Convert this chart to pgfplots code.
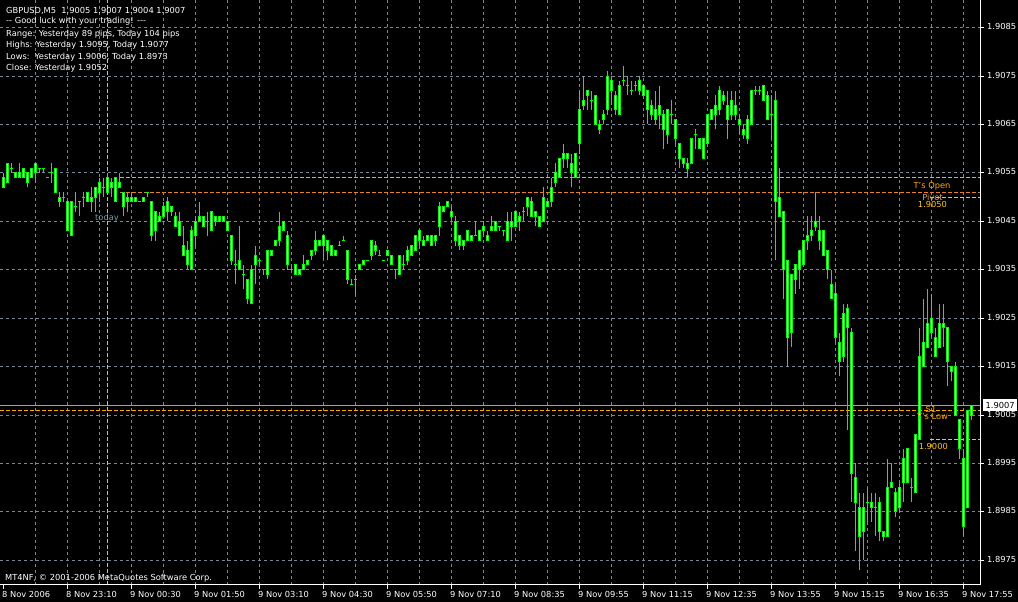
\documentclass[border=0pt]{standalone}
\usepackage{fontspec}
\setmainfont{DejaVu Sans}
\usepackage{pgfplots}
\usepackage{pgfplotstable}
\pgfplotsset{compat=1.18}

\definecolor{bar}{RGB}{0,255,0}
\definecolor{gridc}{RGB}{119,136,153}
\definecolor{opencol}{RGB}{255,170,0}
\definecolor{pivotcol}{RGB}{232,128,42}
\definecolor{pivottxt}{RGB}{214,160,110}
\definecolor{roundcol}{RGB}{255,196,32}
\definecolor{s1col}{RGB}{255,165,0}
\definecolor{todaycol}{RGB}{124,156,172}
\definecolor{sepcol}{RGB}{184,192,200}
\definecolor{bidcol}{RGB}{160,160,160}
\newcommand\fs{\fontsize{8.3}{10}\selectfont}

% GBPUSD M5, bar index (0 = 8 Nov 21:50), open high low close
\pgfplotstableread{
i o h l c
0 1.9052 1.9055 1.9052 1.9054
1 1.9053 1.9057 1.9053 1.9057
2 1.9056 1.9057 1.9055 1.9056
3 1.9055 1.9055 1.9054 1.9054
4 1.9054 1.9057 1.9054 1.9055
5 1.9056 1.9056 1.9054 1.9054
6 1.9053 1.9055 1.9052 1.9055
7 1.9054 1.9056 1.9054 1.9056
8 1.9055 1.9057 1.9053 1.9057
9 1.9056 1.9056 1.9055 1.9056
10 1.9056 1.9056 1.9055 1.9056
11 1.9054 1.9054 1.9054 1.9054
12 1.9055 1.9057 1.9053 1.9055
13 1.9056 1.9056 1.9051 1.9051
14 1.9050 1.9051 1.9048 1.9049
15 1.9050 1.9051 1.9049 1.9050
16 1.9049 1.9049 1.9043 1.9043
17 1.9042 1.9049 1.9042 1.9049
18 1.9048 1.9051 1.9047 1.9048
19 1.9049 1.9049 1.9046 1.9049
20 1.9050 1.9051 1.9048 1.9050
21 1.9049 1.9051 1.9049 1.9051
22 1.9050 1.9052 1.9047 1.9049
23 1.9050 1.9052 1.9047 1.9052
24 1.9051 1.9054 1.9049 1.9053
25 1.9052 1.9054 1.9050 1.9052
26 1.9054 1.9055 1.9051 1.9051
27 1.9052 1.9054 1.9050 1.9053
28 1.9054 1.9054 1.9049 1.9049
29 1.9052 1.9055 1.9052 1.9053
30 1.9051 1.9051 1.9046 1.9048
31 1.9049 1.9051 1.9047 1.9050
32 1.9050 1.9051 1.9049 1.9049
33 1.9049 1.9050 1.9049 1.9050
34 1.9049 1.9049 1.9049 1.9049
35 1.9049 1.9050 1.9049 1.9050
36 1.9051 1.9051 1.9050 1.9051
37 1.9049 1.9049 1.9041 1.9042
38 1.9043 1.9047 1.9041 1.9047
39 1.9046 1.9047 1.9045 1.9045
40 1.9046 1.9049 1.9046 1.9048
41 1.9049 1.9050 1.9045 1.9047
42 1.9047 1.9048 1.9046 1.9048
43 1.9046 1.9047 1.9044 1.9044
44 1.9045 1.9047 1.9042 1.9042
45 1.9040 1.9044 1.9038 1.9038
46 1.9039 1.9041 1.9035 1.9036
47 1.9035 1.9044 1.9035 1.9043
48 1.9042 1.9046 1.9040 1.9045
49 1.9045 1.9049 1.9045 1.9046
50 1.9046 1.9046 1.9044 1.9044
51 1.9045 1.9047 1.9042 1.9045
52 1.9043 1.9047 1.9043 1.9047
53 1.9046 1.9046 1.9044 1.9045
54 1.9045 1.9046 1.9045 1.9046
55 1.9046 1.9046 1.9045 1.9045
56 1.9045 1.9045 1.9043 1.9043
57 1.9042 1.9042 1.9036 1.9037
58 1.9036 1.9039 1.9032 1.9036
59 1.9035 1.9044 1.9035 1.9037
60 1.9034 1.9036 1.9031 1.9034
61 1.9033 1.9033 1.9028 1.9029
62 1.9028 1.9036 1.9028 1.9035
63 1.9036 1.9040 1.9032 1.9038
64 1.9037 1.9037 1.9036 1.9037
65 1.9035 1.9035 1.9034 1.9035
66 1.9034 1.9039 1.9033 1.9039
67 1.9038 1.9039 1.9038 1.9039
68 1.9040 1.9041 1.9040 1.9041
69 1.9041 1.9047 1.9040 1.9044
70 1.9043 1.9045 1.9043 1.9045
71 1.9042 1.9043 1.9035 1.9036
72 1.9035 1.9036 1.9035 1.9035
73 1.9034 1.9036 1.9034 1.9036
74 1.9035 1.9035 1.9034 1.9034
75 1.9035 1.9038 1.9035 1.9036
76 1.9036 1.9037 1.9036 1.9037
77 1.9038 1.9039 1.9037 1.9039
78 1.9039 1.9043 1.9038 1.9041
79 1.9040 1.9041 1.9040 1.9041
80 1.9042 1.9042 1.9037 1.9040
81 1.9041 1.9041 1.9037 1.9039
82 1.9040 1.9040 1.9038 1.9038
83 1.9038 1.9039 1.9038 1.9039
84 1.9040 1.9041 1.9040 1.9040
85 1.9041 1.9042 1.9041 1.9041
86 1.9039 1.9039 1.9032 1.9033
87 1.9032 1.9033 1.9032 1.9032
88 1.9033 1.9034 1.9030 1.9033
89 1.9035 1.9036 1.9035 1.9036
90 1.9036 1.9037 1.9036 1.9037
91 1.9037 1.9037 1.9037 1.9037
92 1.9038 1.9041 1.9037 1.9041
93 1.9040 1.9041 1.9038 1.9039
94 1.9038 1.9039 1.9038 1.9038
95 1.9037 1.9037 1.9037 1.9037
96 1.9038 1.9039 1.9038 1.9039
97 1.9038 1.9038 1.9036 1.9036
98 1.9035 1.9035 1.9033 1.9035
99 1.9034 1.9038 1.9034 1.9038
100 1.9036 1.9038 1.9035 1.9036
101 1.9037 1.9040 1.9036 1.9039
102 1.9038 1.9040 1.9038 1.9040
103 1.9039 1.9042 1.9039 1.9042
104 1.9041 1.9043 1.9040 1.9043
105 1.9041 1.9042 1.9040 1.9040
106 1.9041 1.9042 1.9041 1.9042
107 1.9042 1.9042 1.9040 1.9040
108 1.9041 1.9042 1.9040 1.9042
109 1.9044 1.9049 1.9042 1.9048
110 1.9048 1.9048 1.9047 1.9047
111 1.9048 1.9049 1.9048 1.9049
112 1.9047 1.9048 1.9045 1.9046
113 1.9045 1.9046 1.9040 1.9041
114 1.9042 1.9042 1.9039 1.9040
115 1.9040 1.9041 1.9039 1.9041
116 1.9041 1.9043 1.9041 1.9043
117 1.9042 1.9042 1.9041 1.9041
118 1.9042 1.9045 1.9042 1.9042
119 1.9041 1.9043 1.9041 1.9043
120 1.9043 1.9045 1.9042 1.9044
121 1.9042 1.9043 1.9041 1.9041
122 1.9043 1.9046 1.9043 1.9044
123 1.9043 1.9045 1.9043 1.9045
124 1.9044 1.9044 1.9043 1.9044
125 1.9043 1.9043 1.9042 1.9043
126 1.9041 1.9047 1.9041 1.9045
127 1.9044 1.9047 1.9041 1.9045
128 1.9044 1.9047 1.9044 1.9047
129 1.9046 1.9047 1.9043 1.9045
130 1.9047 1.9048 1.9045 1.9047
131 1.9048 1.9050 1.9046 1.9050
132 1.9049 1.9050 1.9046 1.9046
133 1.9047 1.9047 1.9044 1.9046
134 1.9046 1.9046 1.9044 1.9044
135 1.9045 1.9052 1.9045 1.9050
136 1.9049 1.9049 1.9048 1.9048
137 1.9049 1.9054 1.9048 1.9052
138 1.9053 1.9057 1.9052 1.9055
139 1.9054 1.9058 1.9054 1.9058
140 1.9058 1.9061 1.9056 1.9059
141 1.9059 1.9059 1.9056 1.9058
142 1.9057 1.9059 1.9052 1.9055
143 1.9054 1.9059 1.9054 1.9059
144 1.9061 1.9072 1.9059 1.9068
145 1.9069 1.9075 1.9068 1.9070
146 1.9071 1.9072 1.9068 1.9072
147 1.9070 1.9072 1.9068 1.9070
148 1.9071 1.9071 1.9065 1.9065
149 1.9065 1.9066 1.9063 1.9064
150 1.9066 1.9068 1.9065 1.9067
151 1.9068 1.9076 1.9067 1.9075
152 1.9074 1.9075 1.9069 1.9072
153 1.9071 1.9072 1.9067 1.9068
154 1.9067 1.9074 1.9067 1.9073
155 1.9074 1.9077 1.9073 1.9074
156 1.9073 1.9075 1.9071 1.9073
157 1.9072 1.9074 1.9071 1.9072
158 1.9073 1.9074 1.9072 1.9073
159 1.9072 1.9075 1.9071 1.9074
160 1.9073 1.9073 1.9071 1.9071
161 1.9072 1.9072 1.9065 1.9068
162 1.9069 1.9070 1.9066 1.9067
163 1.9066 1.9072 1.9065 1.9068
164 1.9069 1.9073 1.9064 1.9067
165 1.9067 1.9068 1.9060 1.9064
166 1.9063 1.9068 1.9061 1.9068
167 1.9067 1.9070 1.9065 1.9067
168 1.9066 1.9066 1.9061 1.9062
169 1.9061 1.9061 1.9056 1.9058
170 1.9058 1.9058 1.9056 1.9057
171 1.9056 1.9058 1.9054 1.9057
172 1.9057 1.9062 1.9057 1.9062
173 1.9063 1.9064 1.9060 1.9063
174 1.9062 1.9062 1.9060 1.9060
175 1.9058 1.9062 1.9058 1.9062
176 1.9061 1.9067 1.9061 1.9067
177 1.9066 1.9068 1.9066 1.9068
178 1.9067 1.9071 1.9064 1.9069
179 1.9068 1.9073 1.9067 1.9072
180 1.9071 1.9072 1.9069 1.9070
181 1.9069 1.9072 1.9062 1.9066
182 1.9067 1.9072 1.9066 1.9070
183 1.9069 1.9072 1.9066 1.9067
184 1.9066 1.9067 1.9063 1.9065
185 1.9064 1.9065 1.9062 1.9063
186 1.9062 1.9067 1.9061 1.9066
187 1.9065 1.9072 1.9065 1.9072
188 1.9072 1.9073 1.9071 1.9072
189 1.9072 1.9073 1.9071 1.9072
190 1.9070 1.9073 1.9070 1.9073
191 1.9071 1.9072 1.9066 1.9066
192 1.9067 1.9071 1.9062 1.9067
193 1.9070 1.9072 1.9037 1.9049
194 1.9050 1.9056 1.9046 1.9046
195 1.9047 1.9047 1.9029 1.9035
196 1.9037 1.9037 1.9015 1.9021
197 1.9022 1.9034 1.9019 1.9034
198 1.9033 1.9036 1.9030 1.9036
199 1.9035 1.9039 1.9031 1.9039
200 1.9036 1.9041 1.9036 1.9041
201 1.9041 1.9046 1.9039 1.9042
202 1.9042 1.9046 1.9041 1.9043
203 1.9044 1.9051 1.9043 1.9045
204 1.9043 1.9046 1.9039 1.9041
205 1.9043 1.9043 1.9038 1.9038
206 1.9039 1.9039 1.9033 1.9035
207 1.9032 1.9035 1.9029 1.9029
208 1.9030 1.9032 1.9020 1.9021
209 1.9020 1.9022 1.9013 1.9016
210 1.9017 1.9028 1.9016 1.9026
211 1.9027 1.9028 1.9002 1.9023
212 1.9022 1.9023 1.8987 1.8993
213 1.8992 1.8995 1.8977 1.8987
214 1.8986 1.8989 1.8973 1.8980
215 1.8981 1.8989 1.8975 1.8986
216 1.8987 1.8990 1.8983 1.8987
217 1.8986 1.8989 1.8983 1.8987
218 1.8986 1.8989 1.8980 1.8986
219 1.8987 1.8988 1.8979 1.8981
220 1.8981 1.8981 1.8979 1.8980
221 1.8980 1.8996 1.8980 1.8990
222 1.8990 1.8995 1.8990 1.8991
223 1.8989 1.8990 1.8984 1.8985
224 1.8986 1.8991 1.8985 1.8990
225 1.8991 1.8998 1.8987 1.8996
226 1.8998 1.8998 1.8991 1.8991
227 1.8990 1.8992 1.8987 1.8990
228 1.8989 1.9001 1.8989 1.9001
229 1.9000 1.9023 1.9000 1.9017
230 1.9015 1.9029 1.9015 1.9020
231 1.9019 1.9031 1.9019 1.9024
232 1.9025 1.9030 1.9021 1.9022
233 1.9021 1.9023 1.9017 1.9017
234 1.9019 1.9028 1.9019 1.9024
235 1.9024 1.9028 1.9019 1.9023
236 1.9023 1.9023 1.9011 1.9016
237 1.9015 1.9015 1.9012 1.9014
238 1.9015 1.9016 1.9005 1.9005
239 1.9004 1.9004 1.8996 1.8998
240 1.8996 1.8998 1.8980 1.8982
241 1.8986 1.9006 1.8986 1.9006
242 1.9005 1.9007 1.9004 1.9007
}\candles

\begin{document}
\begin{tikzpicture}
\path[use as bounding box, fill=black] (0pt,0pt) rectangle (1018pt,602pt);
\begin{axis}[
  at={(0pt,17pt)}, anchor=south west,
  scale only axis, width=980pt, height=585pt,
  xmin=-0.75, xmax=244.25, ymin=1.89699, ymax=1.90907,
  axis line style={draw=none},
  xtick pos=left, ytick pos=right,
  xticklabel pos=left, yticklabel pos=right,
  tick align=outside, major tick length=4pt,
  tick style={white, line width=1pt},
  xtick={0,16,...,240},
  xticklabels={8 Nov 2006, 8 Nov 23:10, 9 Nov 00:30, 9 Nov 01:50, 9 Nov 03:10, 9 Nov 04:30, 9 Nov 05:50, 9 Nov 07:10, 9 Nov 08:35, 9 Nov 09:55, 9 Nov 11:15, 9 Nov 12:35, 9 Nov 13:55, 9 Nov 15:15, 9 Nov 16:35, 9 Nov 17:55},
  ytick={1.8975,1.8985,1.8995,1.9005,1.9015,1.9025,1.9035,1.9045,1.9055,1.9065,1.9075,1.9085},
  yticklabels={1.8975,1.8985,1.8995,1.9005,1.9015,1.9025,1.9035,1.9045,1.9055,1.9065,1.9075,1.9085},
  scaled y ticks=false,
  ymajorgrids,
  grid style={gridc, line width=1pt, dash pattern=on 3pt off 3pt},
  tick label style={white, font=\fs, inner sep=0pt},
  xticklabel style={anchor=north west, xshift=-1pt, yshift=-2pt},
  yticklabel style={anchor=west, xshift=3pt, yshift=1pt},
]
% vertical grid every 8 bars
\pgfplotsinvokeforeach{8,16,...,240}{
  \draw[gridc, line width=1pt, dash pattern=on 3pt off 3pt] (axis cs:#1,1.8960) -- (axis cs:#1,1.9100);
}
% today separator
\draw[sepcol, line width=1pt, dash pattern=on 4pt off 2pt] (axis cs:26,1.8960) -- (axis cs:26,1.9100);
% levels
\draw[opencol, line width=1pt, dash pattern=on 4pt off 2pt] (axis cs:29.25,1.9054) -- (axis cs:244.25,1.9054);
\draw[pivotcol, line width=1pt, dash pattern=on 4pt off 2pt] (axis cs:29.25,1.9051) -- (axis cs:244.25,1.9051);
\draw[roundcol, line width=1pt, dash pattern=on 4pt off 2pt] (axis cs:231.75,1.9050) -- (axis cs:244.25,1.9050);
\draw[roundcol, line width=1pt, dash pattern=on 4pt off 2pt] (axis cs:231.75,1.9000) -- (axis cs:244.25,1.9000);
\draw[bidcol, line width=1pt] (axis cs:-0.75,1.9007) -- (axis cs:244.25,1.9007);
\draw[s1col, line width=1pt, dash pattern=on 4pt off 2pt] (axis cs:-0.75,1.9006) -- (axis cs:244.25,1.9006);

% wicks
\addplot[draw=none, forget plot, error bars/.cd, y dir=plus, y explicit, error mark=none,
  error bar style={draw=bar, line width=1pt}]
  table[x=i, y=l, y error expr=\thisrow{h}-\thisrow{l}] {\candles};
% bodies
\addplot[draw=none, forget plot, error bars/.cd, y dir=plus, y explicit, error mark=none,
  error bar style={draw=bar, line width=3pt}]
  table[x=i, y expr={min(\thisrow{o},\thisrow{c})}, y error expr={abs(\thisrow{c}-\thisrow{o})}] {\candles};
\addplot[only marks, forget plot, mark=-, mark size=1.5pt, color=bar, mark options={line width=1pt}]
  table[x=i, y=o] {\candles};
\addplot[only marks, forget plot, mark=-, mark size=1.5pt, color=bar, mark options={line width=1pt}]
  table[x=i, y=c] {\candles};
% body interior
\addplot[draw=none, forget plot,
  restrict expr to domain={abs(\thisrow{c}-\thisrow{o})}{0.00005:1},
  error bars/.cd, y dir=plus, y explicit, error mark=none,
  error bar style={draw=white, line width=1pt, shorten <=0.5pt, shorten >=0.5pt}]
  table[x=i, y expr={min(\thisrow{o},\thisrow{c})}, y error expr={abs(\thisrow{c}-\thisrow{o})}] {\candles};
\end{axis}

% frame
\draw[white, line width=1pt] (0pt,17pt) -- (980pt,17pt) -- (980pt,602pt);

% header comment
\begin{scope}[every node/.style={font=\fs, text=white, anchor=base west, inner sep=0pt}]
\node at (6pt,588.7pt) {GBPUSD,M5\ \ 1.9005 1.9007 1.9004 1.9007};
\node at (6pt,578pt) {{-}{-} Good luck with your trading! {-}{-}{-}};
\node at (6pt,565.3pt) {Range: Yesterday 89 pips, Today 104 pips};
\node at (6pt,554.3pt) {Highs: Yesterday 1.9095, Today 1.9077};
\node at (6pt,542.7pt) {Lows:\ \ Yesterday 1.9006, Today 1.8973};
\node at (6pt,531pt) {Close: Yesterday 1.9052};
\node at (5pt,21.2pt) {MT4NF, \textcopyright\ 2001{-}2006 MetaQuotes Software Corp.};
\end{scope}

% level labels
\begin{scope}[every node/.style={font=\fs, anchor=base, inner sep=0pt}]
\node[text=todaycol] at (107pt,381.5pt) {today};
\node[text=opencol] at (932pt,413pt) {T's Open};
\node[text=pivottxt] at (932.5pt,401.5pt) {Pivot};
\node[text=roundcol] at (932.5pt,394.7pt) {1.9050};
\node[text=s1col] at (931pt,189.3pt) {S1};
\node[text=s1col] at (932.5pt,182pt) {Y's Low};
\node[text=roundcol] at (933.3pt,152.7pt) {1.9000};
\end{scope}

% bid price box
\node[fill=white, text=black, font=\fs, inner sep=0pt, minimum width=34pt, minimum height=12pt, anchor=west] at (983pt,197pt) {1.9007};
\end{tikzpicture}
\end{document}
